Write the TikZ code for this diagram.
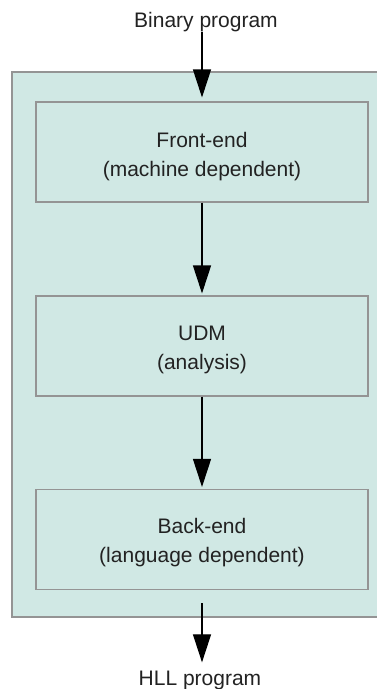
\documentclass[tikz,border=0pt]{standalone}
\usepackage{fontspec}
\setmainfont{Liberation Sans}
\usetikzlibrary{arrows.meta}
\definecolor{panel}{HTML}{D0E8E4}
\definecolor{edge}{HTML}{949494}
\definecolor{ink}{HTML}{222222}
\begin{document}
\begin{tikzpicture}[x=1pt, y=-1pt,
  stage/.style={draw=edge, line width=1.1pt, fill=panel, minimum width=332pt,
                minimum height=100pt, inner sep=0pt},
  lbl/.style={text=ink, align=center, inner sep=0pt,
              font=\fontsize{21}{29}\selectfont},
  arr/.style={draw=black, line width=1.1pt,
              -{Triangle[width=18pt,length=28pt]}}]
  \useasboundingbox (0,0) rectangle (377,689);
  \begin{scope}
    \clip (0,0) rectangle (377,689);
    % decompiler system panel, running off the right edge
    \fill[panel] (12,72) rectangle (390,617);
    \draw[draw=edge, line width=1.5pt] (390,72) -- (12,72) -- (12,617) -- (390,617);
  \end{scope}

  % the three stages
  \node[stage] (fe) at (202,152) {};
  \node[stage] (udm) at (202,346) {};
  \node[stage] (be) at (202,539.5) {};
  \node[lbl] (fe-t) at ([yshift=-4.5pt]fe.center) {Front-end\\(machine dependent)};
  \node[lbl] (udm-t) at ([yshift=-3.5pt]udm.center) {UDM\\(analysis)};
  \node[lbl] (be-t) at ([yshift=-3.5pt]be.center) {Back-end\\(language dependent)};

  % input and output
  \node[lbl, anchor=base] (in) at (206,27) {Binary program};
  \node[lbl, anchor=base] (out) at (200,685) {HLL program};

  % data flow
  \draw[arr, shorten >=4pt] (fe.north |- in.south) -- (fe.north);
  \draw[arr, shorten >=2pt] (fe.south) -- (udm.north);
  \draw[arr, shorten >=2pt] (udm.south) -- (be.north);
  \draw[arr, shorten <=13pt, shorten >=8pt] (be.south) -- (be.south |- out.north);
\end{tikzpicture}
\end{document}
